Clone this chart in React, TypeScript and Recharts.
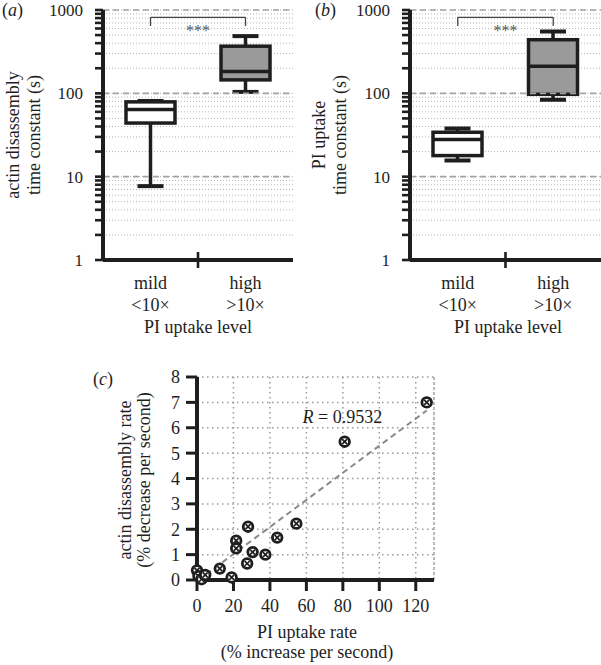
import React from 'react';
import {
    ComposedChart, Bar, Scatter, XAxis, YAxis, CartesianGrid,
    ReferenceLine, ReferenceDot,
} from 'recharts';

// ---- data ----
const GROUPS    = ['mild', 'high'];
const GROUP_SUB = ['<10×', '>10×'];

// (a) actin disassembly time constant (s)
const ACTIN_MIN = [7.7, 104];
const ACTIN_Q1  = [44, 145];
const ACTIN_MED = [64, 183];
const ACTIN_Q3  = [79, 368];
const ACTIN_MAX = [81, 486];

// (b) PI uptake time constant (s)
const PI_MIN = [15.6, 84];
const PI_Q1  = [17.9, 97.3];
const PI_MED = [27.9, 211];
const PI_Q3  = [34.1, 440];
const PI_MAX = [37.8, 553];

// significance bracket (value of the bar and of its legs)
const BRACKET_TOP = 817;
const BRACKET_LEG = 643;

const LOG_DECADES = [1, 10, 100];
const LOG_STEPS   = [1, 2, 3, 4, 5, 6, 7, 8, 9];
const LOG_TICKS   = [...LOG_DECADES.flatMap(d => LOG_STEPS.map(s => d * s)), 1000];
const LOG_LABELS  = [1, 10, 100, 1000];
const LOG_MAJOR   = [10, 100, 1000];

// (c) rates
const PI_RATE    = [0, 0.8, 2.5, 4.5, 12.5, 19, 21.5, 21.5, 27.5, 28, 30.5, 37.5, 44, 54.5, 81, 126];
const ACTIN_RATE = [0.38, 0.15, 0.03, 0.2, 0.45, 0.1, 1.55, 1.25, 0.65, 2.1, 1.1, 1.0, 1.67, 2.22, 5.45, 7.0];
const FIT_X = [5, 126];
const FIT_Y = [0.22, 6.68];
const R_LABEL = { x: 57.9, y: 6.19, text: '0.9532' };
const RATE_X_TICKS = [0, 20, 40, 60, 80, 100, 120];
const RATE_Y_TICKS = [0, 1, 2, 3, 4, 5, 6, 7, 8];

// ---- styles ----
const FONT = '"Liberation Serif", "Times New Roman", serif';
const INK = '#1e1e1e';
const BOX_FILL = ['#ffffff', '#9a9a9a'];
const Y_TICK_LEN = 8;
const Y_TICK_GAP = 12;

const makeRows = (mins: number[], q1: number[], med: number[], q3: number[], max: number[]) =>
    GROUPS.map((g, i) => ({
        group: g, min: mins[i], q1: q1[i], median: med[i], q3: q3[i], max: max[i],
        box: [q1[i], q3[i]], fill: BOX_FILL[i],
    }));

const actinRows = makeRows(ACTIN_MIN, ACTIN_Q1, ACTIN_MED, ACTIN_Q3, ACTIN_MAX);
const piRows    = makeRows(PI_MIN, PI_Q1, PI_MED, PI_Q3, PI_MAX);
const ratePoints = PI_RATE.map((x, i) => ({ x, y: ACTIN_RATE[i] }));

// box + whiskers on a log axis, positions derived from the bar the library placed
const BoxShape = (props: any) => {
    const { x, y, width, height, payload } = props;
    const top = Math.min(y, y + height);
    const h = Math.abs(height);
    const { q1, q3, min, max, median, fill } = payload;
    const per = h / (Math.log10(q3) - Math.log10(q1));
    const yOf = (v: number) => top + (Math.log10(q3) - Math.log10(v)) * per;
    const cx = x + width / 2;
    const cap = 13;
    return (
        <g>
            <line x1={cx} x2={cx} y1={yOf(max)} y2={yOf(q3)} stroke={INK} strokeWidth={3.5} />
            <line x1={cx} x2={cx} y1={yOf(q1)} y2={yOf(min)} stroke={INK} strokeWidth={3.5} />
            <line x1={cx - cap} x2={cx + cap} y1={yOf(max)} y2={yOf(max)} stroke={INK} strokeWidth={4} />
            <line x1={cx - cap} x2={cx + cap} y1={yOf(min)} y2={yOf(min)} stroke={INK} strokeWidth={4} />
            <rect x={x} y={top} width={width} height={h} fill={fill} stroke={INK} strokeWidth={3.5} />
            <line x1={x} x2={x + width} y1={yOf(median)} y2={yOf(median)} stroke={INK} strokeWidth={3.5} />
        </g>
    );
};

const LogTick = (props: any) => {
    const { x, y, payload } = props;
    const ax = x + Y_TICK_LEN + Y_TICK_GAP;
    return (
        <g>
            <line x1={ax - Y_TICK_LEN} x2={ax} y1={y} y2={y} stroke={INK} strokeWidth={2.6} />
            {LOG_LABELS.includes(payload.value) && (
                <text x={x} y={y} dy="0.35em" textAnchor="end" fontFamily={FONT} fontSize={17} fill={INK}>
                    {payload.value}
                </text>
            )}
        </g>
    );
};

const GroupTick = (props: any) => {
    const { x, y, payload, index, band } = props;
    return (
        <g>
            {index === 0 && (
                <line x1={x + band / 2} x2={x + band / 2} y1={y - 8} y2={y + 8} stroke={INK} strokeWidth={2.6} />
            )}
            <text x={x} y={y + 29} textAnchor="middle" fontFamily={FONT} fontSize={18} fill={INK}>
                {payload.value}
            </text>
            <text x={x} y={y + 51} textAnchor="middle" fontFamily={FONT} fontSize={18} fill={INK}>
                {GROUP_SUB[index]}
            </text>
        </g>
    );
};

const Stars = (p: any) => {
    const vb = p.viewBox;
    return (
        <text x={vb.x + vb.width / 2} y={vb.y + 18.5} textAnchor="middle"
              fontFamily={FONT} fontSize={16} fill="#555555" stroke="none">***</text>
    );
};

const RText = (p: any) => {
    const vb = p.viewBox;
    return (
        <text x={vb.x} y={vb.y} fontFamily={FONT} fontSize={18} fill={INK} stroke="none">
            <tspan fontStyle="italic">R</tspan>{' = ' + R_LABEL.text}
        </text>
    );
};

const BoxPanel: React.FC<{ rows: any[]; width: number; axisWidth: number; right: number }> =
    ({ rows, width, axisWidth, right }) => {
    const band = (width - axisWidth - right) / 2;
    return (
        <ComposedChart width={width} height={345} data={rows}
                       margin={{ top: 10, right, bottom: 5, left: 0 }}>
            <CartesianGrid vertical={false} stroke="#b3b3b3" strokeDasharray="1 2" />
            {LOG_MAJOR.map(v => (
                <ReferenceLine key={v} y={v} stroke="#a4a4a4" strokeWidth={1.6} strokeDasharray="6 4" />
            ))}
            <XAxis dataKey="group" height={80} interval={0} tickLine={false} tickSize={0} tickMargin={0}
                   stroke={INK} axisLine={{ stroke: INK, strokeWidth: 4 }}
                   tick={(p: any) => <GroupTick {...p} band={band} />} />
            <YAxis scale="log" domain={[1, 1000]} ticks={LOG_TICKS} allowDataOverflow width={axisWidth}
                   interval={0} tickSize={Y_TICK_LEN} tickMargin={Y_TICK_GAP} stroke={INK}
                   tickLine={false} tick={LogTick}
                   axisLine={{ stroke: INK, strokeWidth: 4 }} />
            <Bar dataKey="box" barSize={49} shape={BoxShape} isAnimationActive={false} />
            <ReferenceLine segment={[{ x: 'mild', y: BRACKET_TOP }, { x: 'high', y: BRACKET_TOP }]}
                           stroke="#444" strokeWidth={1.3} label={{ content: Stars }} />
            <ReferenceLine segment={[{ x: 'mild', y: BRACKET_TOP }, { x: 'mild', y: BRACKET_LEG }]}
                           stroke="#444" strokeWidth={1.3} />
            <ReferenceLine segment={[{ x: 'high', y: BRACKET_TOP }, { x: 'high', y: BRACKET_LEG }]}
                           stroke="#444" strokeWidth={1.3} />
        </ComposedChart>
    );
};

const CrossCircle = (props: any) => {
    const { cx, cy } = props;
    const d = 2.5;
    return (
        <g>
            <circle cx={cx} cy={cy} r={4.8} fill="#fff" stroke={INK} strokeWidth={2.8} />
            <line x1={cx - d} y1={cy - d} x2={cx + d} y2={cy + d} stroke={INK} strokeWidth={1.7} />
            <line x1={cx - d} y1={cy + d} x2={cx + d} y2={cy - d} stroke={INK} strokeWidth={1.7} />
        </g>
    );
};

const Title: React.FC<{ x: number; y: number; rotate?: boolean; anchor?: string; children: React.ReactNode }> =
    ({ x, y, rotate, anchor = 'middle', children }) => (
    <text x={x} y={y} textAnchor={anchor as any} fontFamily={FONT} fontSize={18} fill={INK}
          transform={rotate ? `rotate(-90, ${x}, ${y})` : undefined}>
        {children}
    </text>
);

export default function App() {
    return (
        <div style={{ position: 'absolute', left: 0, top: 0, width: 601, height: 665, background: '#fff' }}>
            <div style={{ position: 'absolute', left: 0, top: 0 }}>
                <BoxPanel rows={actinRows} width={300} axisWidth={103} right={7} />
            </div>
            <div style={{ position: 'absolute', left: 300, top: 0 }}>
                <BoxPanel rows={piRows} width={301} axisWidth={110} right={0} />
            </div>
            <div style={{ position: 'absolute', left: 90, top: 340 }}>
                <ComposedChart width={360} height={325} data={ratePoints}
                               margin={{ top: 37, right: 16, bottom: 5, left: 0 }}>
                    <CartesianGrid stroke="#9a9a9a" strokeWidth={1.5} strokeDasharray="1.5 3.5" />
                    <ReferenceLine x={130} stroke="#9a9a9a" strokeWidth={1.5} strokeDasharray="1.5 3.5" />
                    <XAxis type="number" dataKey="x" domain={[0, 130]} ticks={RATE_X_TICKS} height={80}
                           interval={0} tickSize={11} tickMargin={8} stroke={INK}
                           tick={{ fontSize: 18, fill: INK, fontFamily: FONT }}
                           tickLine={{ stroke: INK, strokeWidth: 3 }}
                           axisLine={{ stroke: INK, strokeWidth: 4 }} />
                    <YAxis type="number" dataKey="y" domain={[0, 8]} ticks={RATE_Y_TICKS} width={107}
                           interval={0} tickSize={11} tickMargin={6} stroke={INK}
                           tick={{ fontSize: 18, fill: INK, fontFamily: FONT }}
                           tickLine={{ stroke: INK, strokeWidth: 3 }}
                           axisLine={{ stroke: INK, strokeWidth: 4 }} />
                    <ReferenceLine segment={[{ x: FIT_X[0], y: FIT_Y[0] }, { x: FIT_X[1], y: FIT_Y[1] }]}
                                   stroke="#8a8a8a" strokeWidth={2} strokeDasharray="6 4" />
                    <ReferenceDot x={R_LABEL.x} y={R_LABEL.y} r={0} fill="none" stroke="none"
                                  label={{ content: RText }} />
                    <Scatter data={ratePoints} shape={CrossCircle} isAnimationActive={false} />
                </ComposedChart>
            </div>
            <svg width={601} height={665} style={{ position: 'absolute', left: 0, top: 0, pointerEvents: 'none' }}>
                <Title x={2} y={16} anchor="start">(<tspan fontStyle="italic">a</tspan>)</Title>
                <Title x={315} y={16} anchor="start">(<tspan fontStyle="italic">b</tspan>)</Title>
                <Title x={93} y={385} anchor="start">(<tspan fontStyle="italic">c</tspan>)</Title>

                <Title x={19} y={135} rotate>actin disassembly</Title>
                <Title x={40} y={135} rotate>time constant (s)</Title>
                <Title x={198} y={333}>PI uptake level</Title>

                <Title x={325} y={135} rotate>PI uptake</Title>
                <Title x={346} y={135} rotate>time constant (s)</Title>
                <Title x={508} y={333}>PI uptake level</Title>

                <Title x={131} y={480} rotate>actin disassembly rate</Title>
                <Title x={150} y={480} rotate>(% decrease per second)</Title>
                <Title x={307} y={638}>PI uptake rate</Title>
                <Title x={307} y={658}>(% increase per second)</Title>
            </svg>
        </div>
    );
}
